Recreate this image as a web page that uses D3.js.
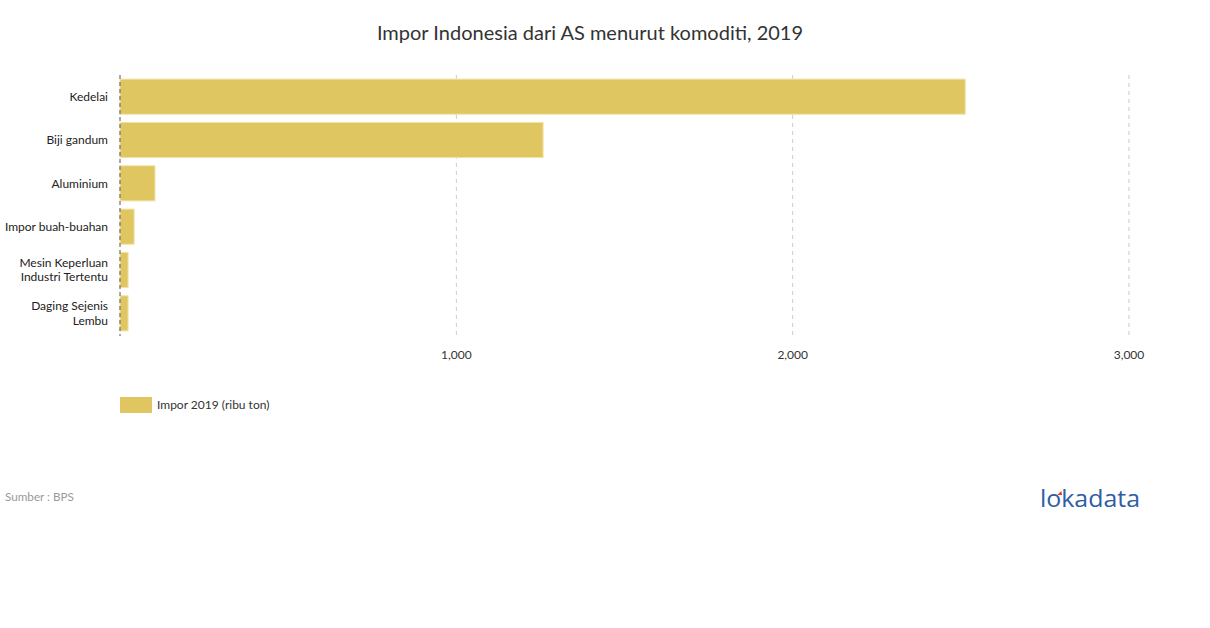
<!DOCTYPE html>
<html>
<head>
<meta charset="utf-8">
<script src="https://cdn.jsdelivr.net/npm/d3@7"></script>
<style>
  body { margin: 0; background: #fff; font-family: Lato, "Open Sans", sans-serif; }
</style>
</head>
<body>
<div id="chart"></div>
<script>
// values (ribu ton)
const categories = ["Kedelai", "Biji gandum", "Aluminium", "Impor buah-buahan", "Mesin Keperluan\nIndustri Tertentu", "Daging Sejenis\nLembu"];
const values = [2513, 1258, 104, 42, 24, 24];
const ticks = [1000, 2000, 3000];
const seriesName = "Impor 2019 (ribu ton)";

const W = 1210, H = 628;
const barColor = "#dfc661";

const svg = d3.select("#chart")
    .append("svg")
    .attr("width", W)
    .attr("height", H)
    .style("font-family", "Lato, sans-serif");

svg.append("text")
    .attr("x", 590)
    .attr("y", 40)
    .attr("text-anchor", "middle")
    .attr("fill", "#333")
    .style("font-size", "20px")
    .text("Impor Indonesia dari AS menurut komoditi, 2019");

const x = d3.scaleLinear().domain([0, 3000]).range([120, 1129]);
const y = d3.scaleBand().domain(categories).range([75, 335]).paddingInner(0.19).paddingOuter(0.095);

// gridlines
svg.append("g")
    .selectAll("line")
    .data(ticks)
    .join("line")
    .attr("x1", d => x(d)).attr("x2", d => x(d))
    .attr("y1", 75).attr("y2", 336)
    .attr("stroke", "#ccc")
    .attr("stroke-dasharray", "4,4");

// bars
svg.append("g")
    .selectAll("rect")
    .data(values)
    .join("rect")
    .attr("x", x(0))
    .attr("y", (d, i) => y(categories[i]))
    .attr("width", d => x(d) - x(0))
    .attr("height", y.bandwidth())
    .attr("fill", barColor)
    .attr("stroke", "#f1e2a6")
    .attr("stroke-width", 1);

// zero line
svg.append("line")
    .attr("x1", x(0)).attr("x2", x(0))
    .attr("y1", 75).attr("y2", 336)
    .attr("stroke", "#555")
    .attr("stroke-dasharray", "4,3");

// x tick labels
svg.append("g")
    .selectAll("text")
    .data(ticks)
    .join("text")
    .attr("x", d => x(d))
    .attr("y", 359)
    .attr("text-anchor", "middle")
    .attr("fill", "#333")
    .style("font-size", "12px")
    .text(d => d3.format(",")(d));

// category labels
const lab = svg.append("g")
    .selectAll("text")
    .data(categories)
    .join("text")
    .attr("text-anchor", "end")
    .attr("fill", "#222")
    .style("font-size", "12px");

lab.each(function(d) {
    const lines = d.split("\n");
    const cy = y(d) + y.bandwidth() / 2;
    const t = d3.select(this);
    lines.forEach((ln, j) => {
        t.append("tspan")
            .attr("x", 108)
            .attr("y", cy + (j - (lines.length - 1) / 2) * 14.5)
            .attr("dy", "0.35em")
            .text(ln);
    });
});

// legend
svg.append("rect")
    .attr("x", 120).attr("y", 397)
    .attr("width", 32).attr("height", 16)
    .attr("fill", barColor);
svg.append("text")
    .attr("x", 157).attr("y", 405)
    .attr("dy", "0.35em")
    .attr("fill", "#333")
    .style("font-size", "12px")
    .text(seriesName);

// source
svg.append("text")
    .attr("x", 5).attr("y", 501)
    .attr("fill", "#999")
    .style("font-size", "11.7px")
    .text("Sumber : BPS");

// logo
const logo = svg.append("text")
    .attr("x", 1040).attr("y", 507)
    .attr("fill", "#2f5da6")
    .style("font-size", "24px")
    .style("font-family", "'Open Sans', sans-serif")
    .text("lokadata");
const lw = logo.node().getComputedTextLength();
logo.attr("textLength", 100).attr("lengthAdjust", "spacingAndGlyphs");
const oEnd = 1040 + logo.node().getEndPositionOfChar(1).x - 1040;
svg.append("path")
    .attr("d", `M${oEnd - 4},${495} l4,-4 l1,4 z`)
    .attr("fill", "#e0413a");
</script>
</body>
</html>
